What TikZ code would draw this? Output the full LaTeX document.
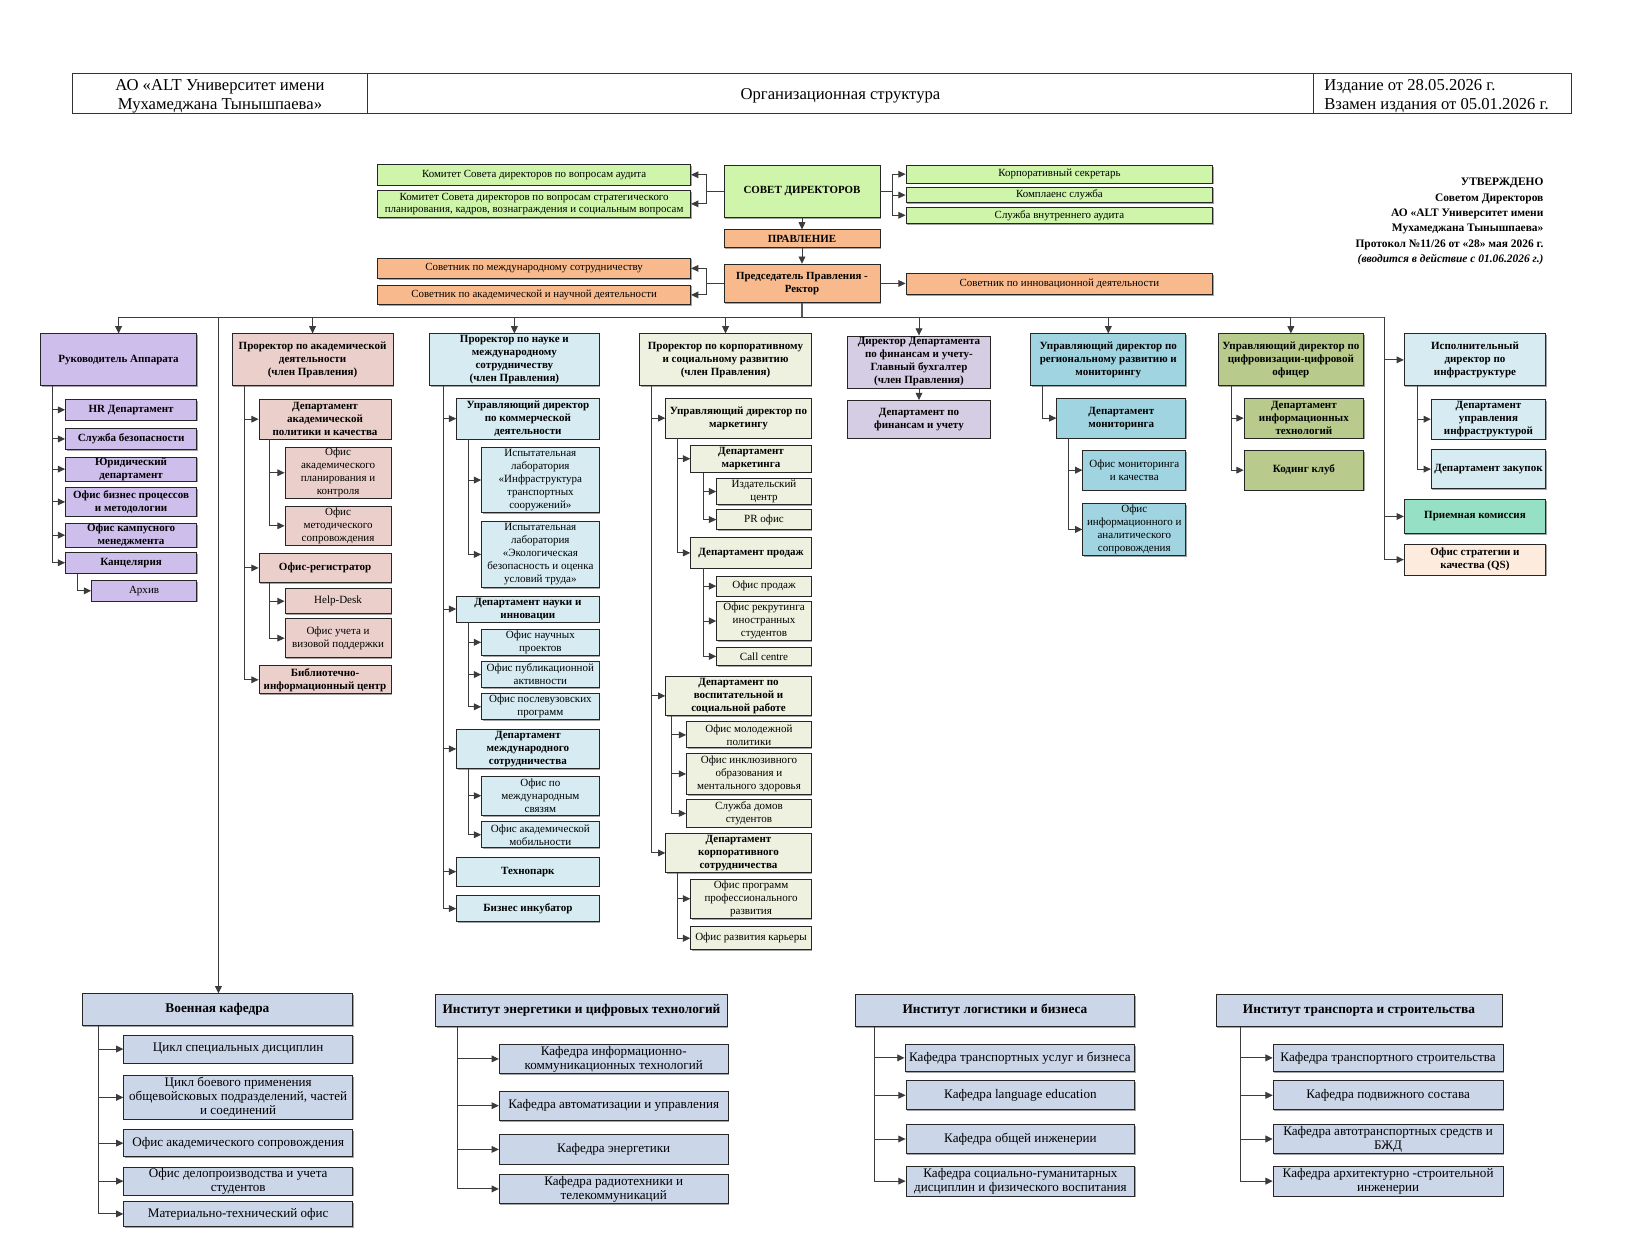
\documentclass[tikz,border=0pt]{standalone}
\usepackage{fontspec}
\setmainfont{Liberation Serif}
\usetikzlibrary{arrows.meta,shadows}
\definecolor{cgreen}{RGB}{206,245,170}
\definecolor{corange}{RGB}{248,186,140}
\definecolor{clav}{RGB}{206,190,236}
\definecolor{cpink}{RGB}{235,207,203}
\definecolor{cltblue}{RGB}{214,236,242}
\definecolor{cbeige}{RGB}{238,241,223}
\definecolor{cfin}{RGB}{213,205,227}
\definecolor{cteal}{RGB}{160,212,225}
\definecolor{colive}{RGB}{184,202,140}
\definecolor{cmint}{RGB}{150,224,198}
\definecolor{cpeach}{RGB}{253,236,222}
\definecolor{cgray}{RGB}{203,214,232}
\definecolor{cline}{RGB}{60,60,60}
\newcommand\mkbox[7]{%
 \pgfmathsetmacro\mkW{#4-#2}\pgfmathsetmacro\mkH{#5-#3}%
 \pgfmathsetmacro\mkX{(#2+#4)/2}\pgfmathsetmacro\mkY{(#3+#5)/2}%
 \node[#6, minimum width=\mkW pt, minimum height=\mkH pt] (#1) at (\mkX,\mkY) {#7};}
\tikzset{
 bx/.style={draw=black!85, line width=0.8pt, align=center, inner sep=0.5pt,
   drop shadow={shadow xshift=1pt, shadow yshift=-1.2pt, fill=black!45, opacity=0.8}},
 topn/.style={bx, font=\fontsize{10.5}{12}\selectfont},
 topb/.style={bx, font=\bfseries\fontsize{10.5}{12}\selectfont},
 cb/.style={bx, font=\bfseries\fontsize{10.6}{12.5}\selectfont},
 cn/.style={bx, font=\fontsize{10.6}{12.5}\selectfont},
 bb/.style={bx, font=\bfseries\fontsize{12.8}{13.5}\selectfont},
 bn/.style={bx, font=\fontsize{12.6}{13.5}\selectfont},
 ln/.style={draw=cline, line width=0.9pt},
 arr/.style={draw=cline, line width=0.9pt, -{Triangle[length=7pt,width=6.5pt]}},
 hd/.style={font=\fontsize{16}{18}\selectfont, align=center, inner sep=0pt},
}
\begin{document}
\begin{tikzpicture}[x=1pt,y=-1pt]
\useasboundingbox (0,0) rectangle (1568,1193);
\fill[white] (0,0) rectangle (1568,1193);
% header
\draw[line width=1pt, draw=black!80] (70,71) rectangle (1511,109);
\draw[line width=1pt, draw=black!80] (353,71) -- (353,109) (1263,71) -- (1263,109);
\node[hd] (h1) at (211.5,92.5) {АО «ALT Университет имени\\Мухамеджана Тынышпаева»};
\node[hd] (h2) at (808,92.5) {Организационная структура};
\node[hd, align=left, anchor=west] (h3) at (1273,92.5) {Издание от 28.05.2026 г.\\Взамен издания от 05.01.2026 г.};
% approved block
\node[align=right, anchor=north east, inner sep=0pt, font=\bfseries\fontsize{11}{14.8}\selectfont] (appr) at (1484,171)
 {УТВЕРЖДЕНО\\Советом Директоров\\АО «ALT Университет имени\\Мухамеджана Тынышпаева»\\Протокол №11/26 от «28» мая 2026 г.\\\textit{(вводится в действие с 01.06.2026 г.)}};
% top
\mkbox{kaud}{363}{158}{664}{178}{topn,fill=cgreen}{Комитет Совета директоров по вопросам аудита}
\mkbox{kstrat}{363}{183}{664}{209}{topn,fill=cgreen}{Комитет Совета директоров по вопросам стратегического\\планирования, кадров, вознаграждения и социальным вопросам}
\mkbox{sovet}{696}{159}{846}{209}{topb,fill=cgreen}{СОВЕТ ДИРЕКТОРОВ}
\mkbox{ksec}{871}{159}{1166}{176}{topn,fill=cgreen}{Корпоративный секретарь}
\mkbox{kompl}{871}{180}{1166}{195}{topn,fill=cgreen}{Комплаенс служба}
\mkbox{saud}{871}{199}{1166}{215}{topn,fill=cgreen}{Служба внутреннего аудита}
\mkbox{pravl}{696}{221}{846}{238}{topb,fill=corange}{ПРАВЛЕНИЕ}
\mkbox{sov1}{363}{248}{664}{268}{topn,fill=corange}{Советник по международному сотрудничеству}
\mkbox{sov2}{363}{274}{664}{293}{topn,fill=corange}{Советник по академической и научной деятельности}
\mkbox{rector}{696}{254}{846}{291}{topb,fill=corange}{Председатель Правления -\\Ректор}
\mkbox{sov3}{871}{263}{1166}{283}{topn,fill=corange}{Советник по инновационной деятельности}
\draw[arr] (sovet.west) -- ++(-16,0) |- (kaud.east);
\draw[arr] (sovet.west) -- ++(-16,0) |- (kstrat.east);
\draw[arr] (sovet.east) -- ++(12,0) |- (ksec.west);
\draw[arr] (sovet.east) -- ++(12,0) |- (kompl.west);
\draw[arr] (sovet.east) -- ++(12,0) |- (saud.west);
\draw[arr] (sovet.south) -- (pravl.north);
\draw[arr] (pravl.south) -- (rector.north);
\draw[arr] (rector.west) -- ++(-16,0) |- (sov1.east);
\draw[arr] (rector.west) -- ++(-16,0) |- (sov2.east);
\draw[arr] (rector.east) -- (sov3.west |- rector.east);
% level 1
\mkbox{ruk}{39}{321}{189}{371}{cb,fill=clav}{Руководитель Аппарата}
\mkbox{pacad}{223}{321}{378}{371}{cb,fill=cpink}{Проректор по академической\\деятельности\\(член Правления)}
\mkbox{pnauk}{413}{321}{576}{371}{cb,fill=cltblue}{Проректор по науке и\\международному\\сотрудничеству\\(член Правления)}
\mkbox{pkorp}{615}{321}{780}{371}{cb,fill=cbeige}{Проректор по корпоративному\\и социальному развитию\\(член Правления)}
\mkbox{dfin}{815}{323}{952}{373}{cb,fill=cfin}{Директор Департамента\\по финансам и учету-\\Главный бухгалтер\\(член Правления)}
\mkbox{ureg}{991}{321}{1140}{371}{cb,fill=cteal}{Управляющий директор по\\региональному развитию и\\мониторингу}
\mkbox{ucif}{1171}{321}{1311}{371}{cb,fill=colive}{Управляющий директор по\\цифровизации-цифровой\\офицер}
\mkbox{ispdir}{1350}{321}{1486}{371}{cb,fill=cltblue}{Исполнительный\\директор по\\инфраструктуре}
\coordinate (bus) at (771,305);
\coordinate (b8) at (1331,305);
\coordinate (bv) at (210,305);
\draw[ln, line width=1.4pt, draw=black!65] (rector.south) -- (bus);
\draw[ln, line width=1.4pt, draw=black!65] (bus) -| (ruk.north);
\draw[ln, line width=1.4pt, draw=black!65] (bus) -- (b8);
\foreach \n in {ruk,pacad,pnauk,pkorp,dfin,ureg,ucif}{\draw[arr] (bus) -| (\n.north);}
\draw[arr] (bv) -- (bv |- 0,955);
% column 1
\mkbox{hr}{63}{384}{189}{404}{cb,fill=clav}{HR Департамент}
\mkbox{sb}{63}{412}{189}{432}{cb,fill=clav}{Служба безопасности}
\mkbox{yur}{63}{441}{189}{461}{cb,fill=clav}{Юридический\\департамент}
\mkbox{obp}{63}{469}{189}{496}{cb,fill=clav}{Офис  бизнес процессов\\и методологии}
\mkbox{okm}{63}{505}{189}{524}{cb,fill=clav}{Офис кампусного\\менеджмента}
\mkbox{kanc}{63}{531}{189}{551}{cb,fill=clav}{Канцелярия}
\mkbox{arch}{88}{558}{189}{578}{cn,fill=clav}{Архив}
\foreach \n in {hr,sb,yur,obp,okm,kanc}{\draw[arr] ([xshift=12pt]ruk.south west) |- (\n.west);}
\draw[arr] ([xshift=12pt]kanc.south west) |- (arch.west);
% column 2
\mkbox{dapk}{249}{384}{376}{422}{cb,fill=cpink}{Департамент\\академической\\политики и качества}
\mkbox{oapk}{274}{430}{376}{479}{cn,fill=cpink}{Офис\\академического\\планирования и\\контроля}
\mkbox{omet}{274}{487}{376}{524}{cn,fill=cpink}{Офис\\методического\\сопровождения}
\mkbox{oreg}{249}{532}{376}{560}{cb,fill=cpink}{Офис-регистратор}
\mkbox{help}{274}{566}{376}{590}{cn,fill=cpink}{Help-Desk}
\mkbox{oviz}{274}{595}{376}{632}{cn,fill=cpink}{Офис учета и\\визовой поддержки}
\mkbox{bic}{249}{640}{376}{667}{cb,fill=cpink}{Библиотечно-\\информационный центр}
\foreach \n in {dapk,oreg,bic}{\draw[arr] ([xshift=12pt]pacad.south west) |- (\n.west);}
\foreach \n in {oapk,omet}{\draw[arr] ([xshift=10pt]dapk.south west) |- (\n.west);}
\foreach \n in {help,oviz}{\draw[arr] ([xshift=10pt]oreg.south west) |- (\n.west);}
% column 3
\mkbox{ukom}{439}{383}{576}{422}{cb,fill=cltblue}{Управляющий директор\\по коммерческой\\деятельности}
\mkbox{lab1}{463}{430}{576}{493}{cn,fill=cltblue}{Испытательная\\лаборатория\\«Инфраструктура\\транспортных\\сооружений»}
\mkbox{lab2}{463}{501}{576}{565}{cn,fill=cltblue}{Испытательная\\лаборатория\\«Экологическая\\безопасность и оценка\\условий труда»}
\mkbox{dnauk}{439}{573}{576}{598}{cb,fill=cltblue}{Департамент науки и\\инновации}
\mkbox{onp}{463}{605}{576}{630}{cn,fill=cltblue}{Офис научных\\проектов}
\mkbox{opub}{463}{636}{576}{661}{cn,fill=cltblue}{Офис публикационной\\активности}
\mkbox{oposl}{463}{667}{576}{692}{cn,fill=cltblue}{Офис послевузовских\\программ}
\mkbox{dmezh}{439}{701}{576}{739}{cb,fill=cltblue}{Департамент\\международного\\сотрудничества}
\mkbox{omez}{463}{746}{576}{784}{cn,fill=cltblue}{Офис по\\международным\\связям}
\mkbox{oakm}{463}{790}{576}{815}{cn,fill=cltblue}{Офис академической\\мобильности}
\mkbox{tech}{439}{824}{576}{852}{cb,fill=cltblue}{Технопарк}
\mkbox{biz}{439}{861}{576}{886}{cb,fill=cltblue}{Бизнес инкубатор}
\foreach \n in {ukom,dnauk,dmezh,tech,biz}{\draw[arr] ([xshift=14pt]pnauk.south west) |- (\n.west);}
\foreach \n in {lab1,lab2}{\draw[arr] ([xshift=12pt]ukom.south west) |- (\n.west);}
\foreach \n in {onp,opub,oposl}{\draw[arr] ([xshift=12pt]dnauk.south west) |- (\n.west);}
\foreach \n in {omez,oakm}{\draw[arr] ([xshift=12pt]dmezh.south west) |- (\n.west);}
% column 4
\mkbox{umark}{640}{383}{780}{421}{cb,fill=cbeige}{Управляющий директор по\\маркетингу}
\mkbox{dmark}{664}{428}{780}{454}{cb,fill=cbeige}{Департамент\\маркетинга}
\mkbox{izd}{689}{460}{780}{485}{cn,fill=cbeige}{Издательский\\центр}
\mkbox{pr}{689}{490}{780}{509}{cn,fill=cbeige}{PR офис}
\mkbox{dprod}{664}{517}{780}{546}{cb,fill=cbeige}{Департамент продаж}
\mkbox{oprod}{689}{554}{780}{573}{cn,fill=cbeige}{Офис продаж}
\mkbox{orekr}{689}{578}{780}{616}{cn,fill=cbeige}{Офис рекрутинга\\иностранных\\студентов}
\mkbox{call}{689}{622}{780}{640}{cn,fill=cbeige}{Call centre}
\mkbox{dvosp}{640}{650}{780}{688}{cb,fill=cbeige}{Департамент по\\воспитательной и\\социальной работе}
\mkbox{omol}{660}{694}{780}{719}{cn,fill=cbeige}{Офис молодежной\\политики}
\mkbox{oinkl}{660}{724}{780}{764}{cn,fill=cbeige}{Офис инклюзивного\\образования и\\ментального здоровья}
\mkbox{sdom}{660}{769}{780}{795}{cn,fill=cbeige}{Служба домов\\студентов}
\mkbox{dkorp}{640}{801}{780}{839}{cb,fill=cbeige}{Департамент\\корпоративного\\сотрудничества}
\mkbox{oprog}{664}{845}{780}{883}{cn,fill=cbeige}{Офис программ\\профессионального\\развития}
\mkbox{okar}{664}{891}{780}{913}{cn,fill=cbeige}{Офис развития карьеры}
\foreach \n in {umark,dvosp,dkorp}{\draw[arr] ([xshift=12pt]pkorp.south west) |- (\n.west);}
\foreach \n in {dmark,dprod}{\draw[arr] ([xshift=12pt]umark.south west) |- (\n.west);}
\foreach \n in {izd,pr}{\draw[arr] ([xshift=13pt]dmark.south west) |- (\n.west);}
\foreach \n in {oprod,orekr,call}{\draw[arr] ([xshift=13pt]dprod.south west) |- (\n.west);}
\foreach \n in {omol,oinkl,sdom}{\draw[arr] ([xshift=6pt]dvosp.south west) |- (\n.west);}
\foreach \n in {oprog,okar}{\draw[arr] ([xshift=12pt]dkorp.south west) |- (\n.west);}
% column 5
\mkbox{dfdep}{815}{385}{952}{421}{cb,fill=cfin}{Департамент по\\финансам и учету}
\draw[arr] (dfin.south) -- (dfdep.north);
% column 6
\mkbox{dmon}{1016}{383}{1140}{421}{cb,fill=cteal}{Департамент\\мониторинга}
\mkbox{omon}{1041}{433}{1140}{471}{cn,fill=cteal}{Офис мониторинга\\и качества}
\mkbox{oinf}{1041}{484}{1140}{534}{cn,fill=cteal}{Офис\\информационного и\\аналитического\\сопровождения}
\draw[arr] ([xshift=12pt]ureg.south west) |- (dmon.west);
\foreach \n in {omon,oinf}{\draw[arr] ([xshift=12pt]dmon.south west) |- (\n.west);}
% column 7
\mkbox{dit}{1196}{383}{1311}{421}{cb,fill=colive}{Департамент\\информационных\\технологий}
\mkbox{kod}{1196}{433}{1311}{471}{cb,fill=colive}{Кодинг клуб}
\foreach \n in {dit,kod}{\draw[arr] ([xshift=13pt]ucif.south west) |- (\n.west);}
% column 8
\mkbox{dupr}{1376}{384}{1486}{422}{cb,fill=cltblue}{Департамент\\управления\\инфраструктурой}
\mkbox{dzak}{1376}{432}{1486}{470}{cb,fill=cltblue}{Департамент закупок}
\mkbox{priem}{1350}{480}{1486}{513}{cb,fill=cmint}{Приемная комиссия}
\mkbox{ostrat}{1350}{523}{1486}{553}{cb,fill=cpeach}{Офис стратегии и\\качества (QS)}
\foreach \n in {ispdir,priem,ostrat}{\draw[arr] (b8) |- (\n.west);}
\foreach \n in {dupr,dzak}{\draw[arr] ([xshift=13pt]ispdir.south west) |- (\n.west);}
% bottom
\mkbox{voen}{79}{955}{339}{986}{bb,fill=cgray}{Военная кафедра}
\mkbox{c1}{119}{995}{339}{1022}{bn,fill=cgray}{Цикл специальных дисциплин}
\mkbox{c2}{119}{1034}{339}{1076}{bn,fill=cgray}{Цикл боевого применения\\общевойсковых подразделений, частей\\и соединений}
\mkbox{c3}{119}{1086}{339}{1112}{bn,fill=cgray}{Офис академического сопровождения}
\mkbox{c4}{119}{1122}{339}{1149}{bn,fill=cgray}{Офис делопроизводства и учета\\студентов}
\mkbox{c5}{119}{1155}{339}{1179}{bn,fill=cgray}{Материально-технический офис}
\foreach \n in {c1,c2,c3,c4,c5}{\draw[arr] ([xshift=16pt]voen.south west) |- (\n.west);}
\mkbox{ien}{419}{956}{699}{987}{bb,fill=cgray}{Институт энергетики и цифровых технологий}
\mkbox{e1}{480}{1004}{700}{1032}{bn,fill=cgray}{Кафедра информационно-\\коммуникационных технологий}
\mkbox{e2}{480}{1049}{700}{1077}{bn,fill=cgray}{Кафедра автоматизации и управления}
\mkbox{e3}{480}{1091}{700}{1119}{bn,fill=cgray}{Кафедра энергетики}
\mkbox{e4}{480}{1129}{700}{1157}{bn,fill=cgray}{Кафедра радиотехники и\\телекоммуникаций}
\foreach \n in {e1,e2,e3,e4}{\draw[arr] ([xshift=21pt]ien.south west) |- (\n.west);}
\mkbox{ilog}{822}{956}{1091}{987}{bb,fill=cgray}{Институт логистики и бизнеса}
\mkbox{l1}{870}{1004}{1091}{1030}{bn,fill=cgray}{Кафедра транспортных услуг и бизнеса}
\mkbox{l2}{871}{1039}{1091}{1067}{bn,fill=cgray}{Кафедра language education}
\mkbox{l3}{871}{1081}{1091}{1109}{bn,fill=cgray}{Кафедра общей инженерии}
\mkbox{l4}{871}{1121}{1091}{1150}{bn,fill=cgray}{Кафедра социально-гуманитарных\\дисциплин и физического воспитания}
\foreach \n in {l1,l2,l3,l4}{\draw[arr] ([xshift=19pt]ilog.south west) |- (\n.west);}
\mkbox{itr}{1169}{956}{1444}{987}{bb,fill=cgray}{Институт транспорта и строительства}
\mkbox{t1}{1224}{1004}{1445}{1030}{bn,fill=cgray}{Кафедра транспортного строительства}
\mkbox{t2}{1224}{1039}{1445}{1067}{bn,fill=cgray}{Кафедра подвижного состава}
\mkbox{t3}{1224}{1081}{1445}{1109}{bn,fill=cgray}{Кафедра автотранспортных средств и\\БЖД}
\mkbox{t4}{1224}{1121}{1445}{1150}{bn,fill=cgray}{Кафедра архитектурно -строительной\\инженерии}
\foreach \n in {t1,t2,t3,t4}{\draw[arr] ([xshift=24pt]itr.south west) |- (\n.west);}
\end{tikzpicture}
\end{document}
